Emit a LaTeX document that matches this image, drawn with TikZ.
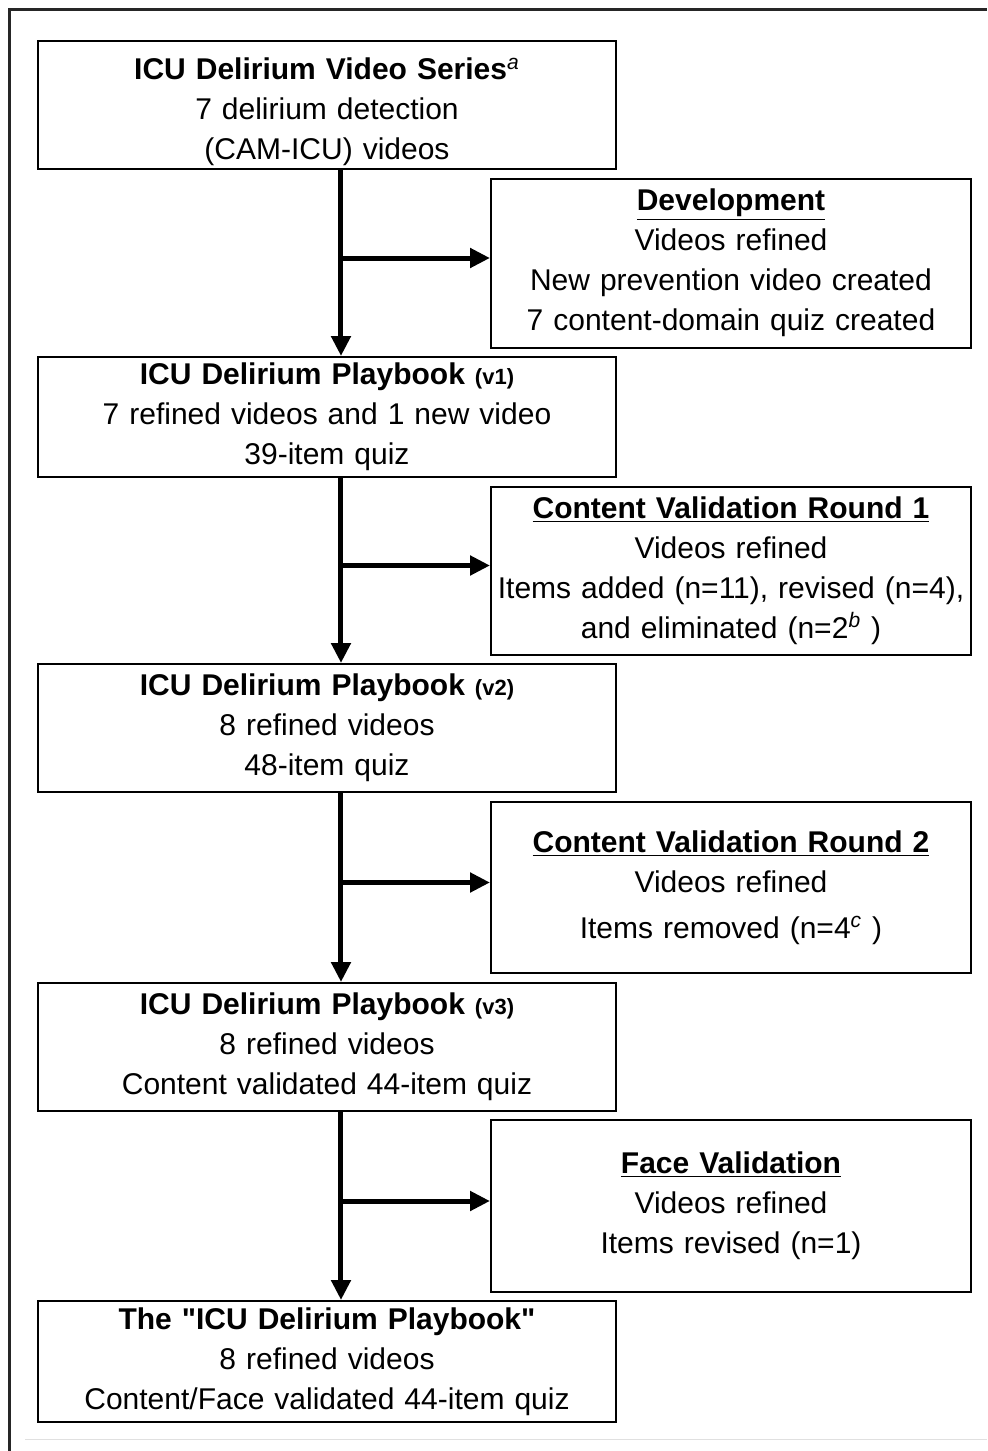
\documentclass[tikz,border=0pt]{standalone}
\usepackage{fontspec}
\setmainfont{Liberation Sans}
\usetikzlibrary{shapes,arrows.meta,positioning,calc}

\newcommand{\vers}[1]{{\fontsize{11}{20}\selectfont\textbf{(#1)}}}
\newcommand{\fn}[1]{\textsuperscript{\textit{#1}}}

\begin{document}
\begin{tikzpicture}[line width=1pt,align=center,font=\fontsize{15}{20}\selectfont,
  main node/.style={rectangle,draw,text width=281pt,minimum height=64pt,inner xsep=4pt,inner ysep=1pt},
  side node/.style={rectangle,draw,text width=238pt,minimum height=85pt,inner xsep=1pt,inner ysep=1pt},
  flow/.style={line width=2.5pt,-{Triangle[length=10pt,width=9.5pt]}}]
    \node[main node] (1) {\rule{0pt}{18pt}\textbf{ICU Delirium Video Series}\fn{a}\\7 delirium detection\\(CAM-ICU) videos};
    \node[main node,minimum height=60pt] (3) [below=93pt of 1] {\textbf{ICU Delirium Playbook} \vers{v1}\\7 refined videos and 1 new video\\39-item quiz};
    \node[main node] (5) [below=92.5pt of 3] {\textbf{ICU Delirium Playbook} \vers{v2}\\8 refined videos\\48-item quiz};
    \node[main node] (7) [below=94.5pt of 5] {\textbf{ICU Delirium Playbook} \vers{v3}\\8 refined videos\\Content validated 44-item quiz};
    \node[main node,minimum height=60.5pt] (9) [below=94pt of 7] {\textbf{The \textquotedbl ICU Delirium Playbook\textquotedbl}\\8 refined videos\\Content/Face validated 44-item quiz};

    % steps between the versions
    \node[side node,minimum height=84.5pt] (2) at ($(1.south)!.5!(3.north)+(202pt,0)$) {\underline{\textbf{Development}}\\Videos refined\\New prevention video created\\7 content-domain quiz created};
    \node[side node,minimum height=84pt] (4) at ($(3.south)!.5!(5.north)+(202pt,0)$) {\underline{\textbf{Content Validation Round 1}}\\Videos refined\\Items added (n=11), revised (n=4),\\and eliminated (n=2\fn{b} )};
    \node[side node,minimum height=85.5pt] (6) at ($(5.south)!.5!(7.north)+(202pt,0)$) {\underline{\textbf{Content Validation Round 2}}\\Videos refined\\[3pt]Items removed (n=4\fn{c} )};
    \node[side node,minimum height=86pt] (8) at ($(7.south)!.5!(9.north)+(202pt,0)$) {\underline{\textbf{Face Validation}}\\Videos refined\\Items revised (n=1)};

    \foreach \a/\b/\c in {1/3/2,3/5/4,5/7/6,7/9/8} {
      \draw[flow] ([xshift=7pt]\a.south) -- ([xshift=7pt]\b.north);
      \draw[flow] ($(\a.south)!.5!(\b.north)+(7pt,2.5pt)$) -- ([yshift=2.5pt]\c.west);
    }

    % frame
    \coordinate (tl) at ($(1.north west)+(-18.5pt,20pt)$);
    \useasboundingbox (tl) rectangle ($(tl)+(493.5pt,-725.5pt)$);
    \draw[line width=1.5pt,black!85] ($(tl)+(4.75pt,-725.5pt)$) -- ($(tl)+(4.75pt,-4.75pt)$) -- ($(tl)+(493.5pt,-4.75pt)$);
    \draw[black!12,line width=.5pt] ($(tl)+(12.5pt,-719.5pt)$) -- ($(tl)+(493.5pt,-719.5pt)$);
  \end{tikzpicture}
\end{document}
